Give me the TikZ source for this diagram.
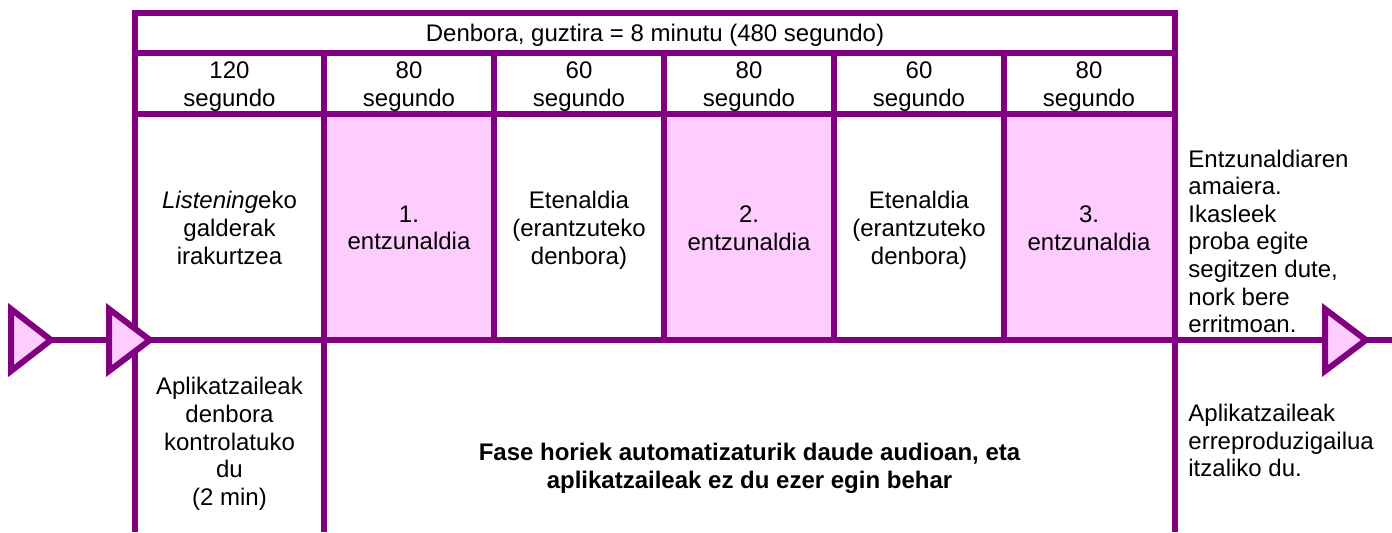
\documentclass[tikz,border=0pt]{standalone}
\usepackage{fontspec}
\setmainfont{Liberation Sans}
\definecolor{frame}{HTML}{800080}
\definecolor{cellpink}{HTML}{FFCCFF}
\begin{document}
\begin{tikzpicture}[x=0.5pt,y=-0.5pt,
  txt/.style={inner sep=0pt, font=\fontsize{12pt}{13.8pt}\selectfont, align=center,
    execute at begin node=\strut, execute at end node=\strut},
  ltxt/.style={txt, align=left, anchor=west},
  btxt/.style={txt, font=\fontsize{12pt}{13.8pt}\selectfont\bfseries},
  rule/.style={draw=frame, line width=3pt},
  tri/.style={draw=frame, fill=cellpink, line width=3pt, line join=miter},
  pinkcell/.style={fill=cellpink}]
\useasboundingbox (0,0) rectangle (1392,532);
% pink cells
\fill[pinkcell] (324,113.5) rectangle (494,340);
\fill[pinkcell] (664,113.5) rectangle (834,340);
\fill[pinkcell] (1004,113.5) rectangle (1175,340);
% table rules
\draw[rule] (135,532) -- (135,13) -- (1175,13) -- (1175,532);
\draw[rule] (135,53) -- (1175,53);
\draw[rule] (135,113.5) -- (1175,113.5);
\draw[rule] (324,53) -- (324,532);
\foreach \x in {494,664,834,1004} \draw[rule] (\x,53) -- (\x,340);
% timeline
\coordinate (t1a) at (11,309); \coordinate (t1b) at (11,371); \coordinate (t1tip) at (51,340);
\coordinate (t2a) at (109,309); \coordinate (t2b) at (109,371); \coordinate (t2tip) at (150,340);
\coordinate (t3a) at (1325,309); \coordinate (t3b) at (1325,371); \coordinate (t3tip) at (1366,340);
\coordinate (lineend) at (1392,340);
\draw[rule] (t1tip) -- (lineend);
\draw[tri] (t1a) -- (t1tip) -- (t1b) -- cycle;
\draw[tri] (t2a) -- (t2tip) -- (t2b) -- cycle;
\draw[tri] (t3a) -- (t3tip) -- (t3b) -- cycle;
% header
\node[txt] (head) at (655,35.5) {Denbora, guztira = 8 minutu (480 segundo)};
% durations
\node[txt] (d1) at (229.5,88.5) {120\\segundo};
\node[txt] (d2) at (409,88.5) {80\\segundo};
\node[txt] (d3) at (579,88.5) {60\\segundo};
\node[txt] (d4) at (749,88.5) {80\\segundo};
\node[txt] (d5) at (919,88.5) {60\\segundo};
\node[txt] (d6) at (1089,88.5) {80\\segundo};
% phases
\node[txt] (p1) at (229.5,232) {\textit{Listening}eko\\galderak\\irakurtzea};
\node[txt] (p2) at (409,232) {1.\\entzunaldia};
\node[txt] (p3) at (579,232) {Etenaldia\\(erantzuteko\\denbora)};
\node[txt] (p4) at (749,232) {2.\\entzunaldia};
\node[txt] (p5) at (919,232) {Etenaldia\\(erantzuteko\\denbora)};
\node[txt] (p6) at (1089,232) {3.\\entzunaldia};
\node[ltxt] (endtxt) at (1188,245.3) {Entzunaldiaren\\amaiera.\\Ikasleek\\proba egite\\segitzen dute,\\nork bere\\erritmoan.};
% bottom row
\node[txt] (ctrl) at (229.5,445.5) {Aplikatzaileak\\denbora\\kontrolatuko\\du\\(2 min)};
\node[btxt] (auto) at (749.5,470) {Fase horiek automatizaturik daude audioan, eta\\aplikatzaileak ez du ezer egin behar};
\node[ltxt] (off) at (1188,444.5) {Aplikatzaileak\\erreproduzigailua\\itzaliko du.};
\end{tikzpicture}
\end{document}
